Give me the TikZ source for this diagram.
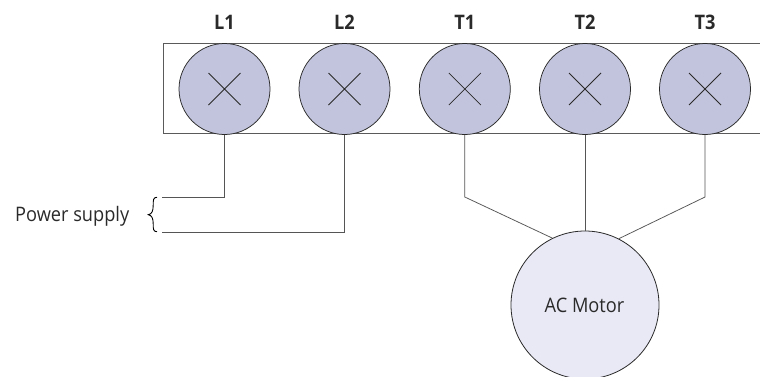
\documentclass[tikz,border=0pt]{standalone}
\usepackage{fontspec}
\setmainfont{Open Sans}
\newfontfamily\narrowfont[FakeStretch=0.91]{Open Sans}
\definecolor{termfill}{HTML}{C1C4DC}
\definecolor{motorfill}{HTML}{E8E9F5}
\definecolor{ink}{HTML}{2A2A2A}
\definecolor{barline}{HTML}{5A5A5A}
\definecolor{wiregray}{HTML}{555555}
\tikzset{
  terminal/.style={circle,draw=ink,fill=termfill,line width=0.75pt,minimum size=91pt,inner sep=0pt,
    path picture={\draw[ink,line width=0.75pt]
      ([shift={(-16pt,-16pt)}]path picture bounding box.center) -- ([shift={(16pt,16pt)}]path picture bounding box.center)
      ([shift={(-16pt,16pt)}]path picture bounding box.center) -- ([shift={(16pt,-16pt)}]path picture bounding box.center);}},
  motor/.style={circle,draw=ink,fill=motorfill,line width=0.8pt,minimum size=148pt,inner sep=0pt},
  head/.style={font=\narrowfont\fontsize{20}{24}\selectfont\bfseries,text=ink,inner sep=0pt,anchor=base},
  wire/.style={draw=wiregray,line width=0.75pt},
  labeltext/.style={font=\narrowfont\fontsize{20}{24}\selectfont,text=ink,inner sep=0pt}
}
\begin{document}
\begin{tikzpicture}[x=1pt,y=-1pt]
\useasboundingbox (0,0) rectangle (760,376);
\clip (0,0) rectangle (760,376);
\fill[white] (0,0) rectangle (760,376);
\draw[barline,line width=1pt] (775,43.3) -- (163.5,43.3) -- (163.5,133.8) -- (775,133.8);
\node[terminal] (l1) at (224.5,89) {};
\node[terminal] (l2) at (344.5,89) {};
\node[terminal] (t1) at (464.8,89) {};
\node[terminal] (t2) at (585,89) {};
\node[terminal] (t3) at (705,89) {};
\node[head] (hl1) at (224.5,29.3) {L1};
\node[head] (hl2) at (344.5,29.3) {L2};
\node[head] (ht1) at (464.8,29.3) {T1};
\node[head] (ht2) at (585,29.3) {T2};
\node[head] (ht3) at (705,29.3) {T3};
\node[motor] (m) at (585,305) {};
\node[labeltext,anchor=base] (mt) at (584.5,312) {AC Motor};
\coordinate (a1) at (162,197);
\coordinate (a2) at (162,232);
\coordinate (b1) at (464.8,197);
\coordinate (b3) at (705,197);
\draw[wire] (l1.south) |- (a1);
\draw[wire] (l2.south) |- (a2);
\draw[wire] (t1.south) -- (b1) -- (m.116.5);
\draw[wire] (t2.south) -- (m.north);
\draw[wire] (t3.south) -- (b3) -- (m.63.5);
\node[labeltext,anchor=base west] (ps) at (15,221.5) {Power supply};
\draw[black,line width=0.9pt] (157,197.3) .. controls (153.2,197.3) and (153.2,200) .. (153.2,205) .. controls (153.2,211) and (152,214) .. (148.3,214.7) .. controls (152,215.4) and (153.2,218.5) .. (153.2,224) .. controls (153.2,229) and (153.2,231.7) .. (157,231.7);
\end{tikzpicture}
\end{document}
